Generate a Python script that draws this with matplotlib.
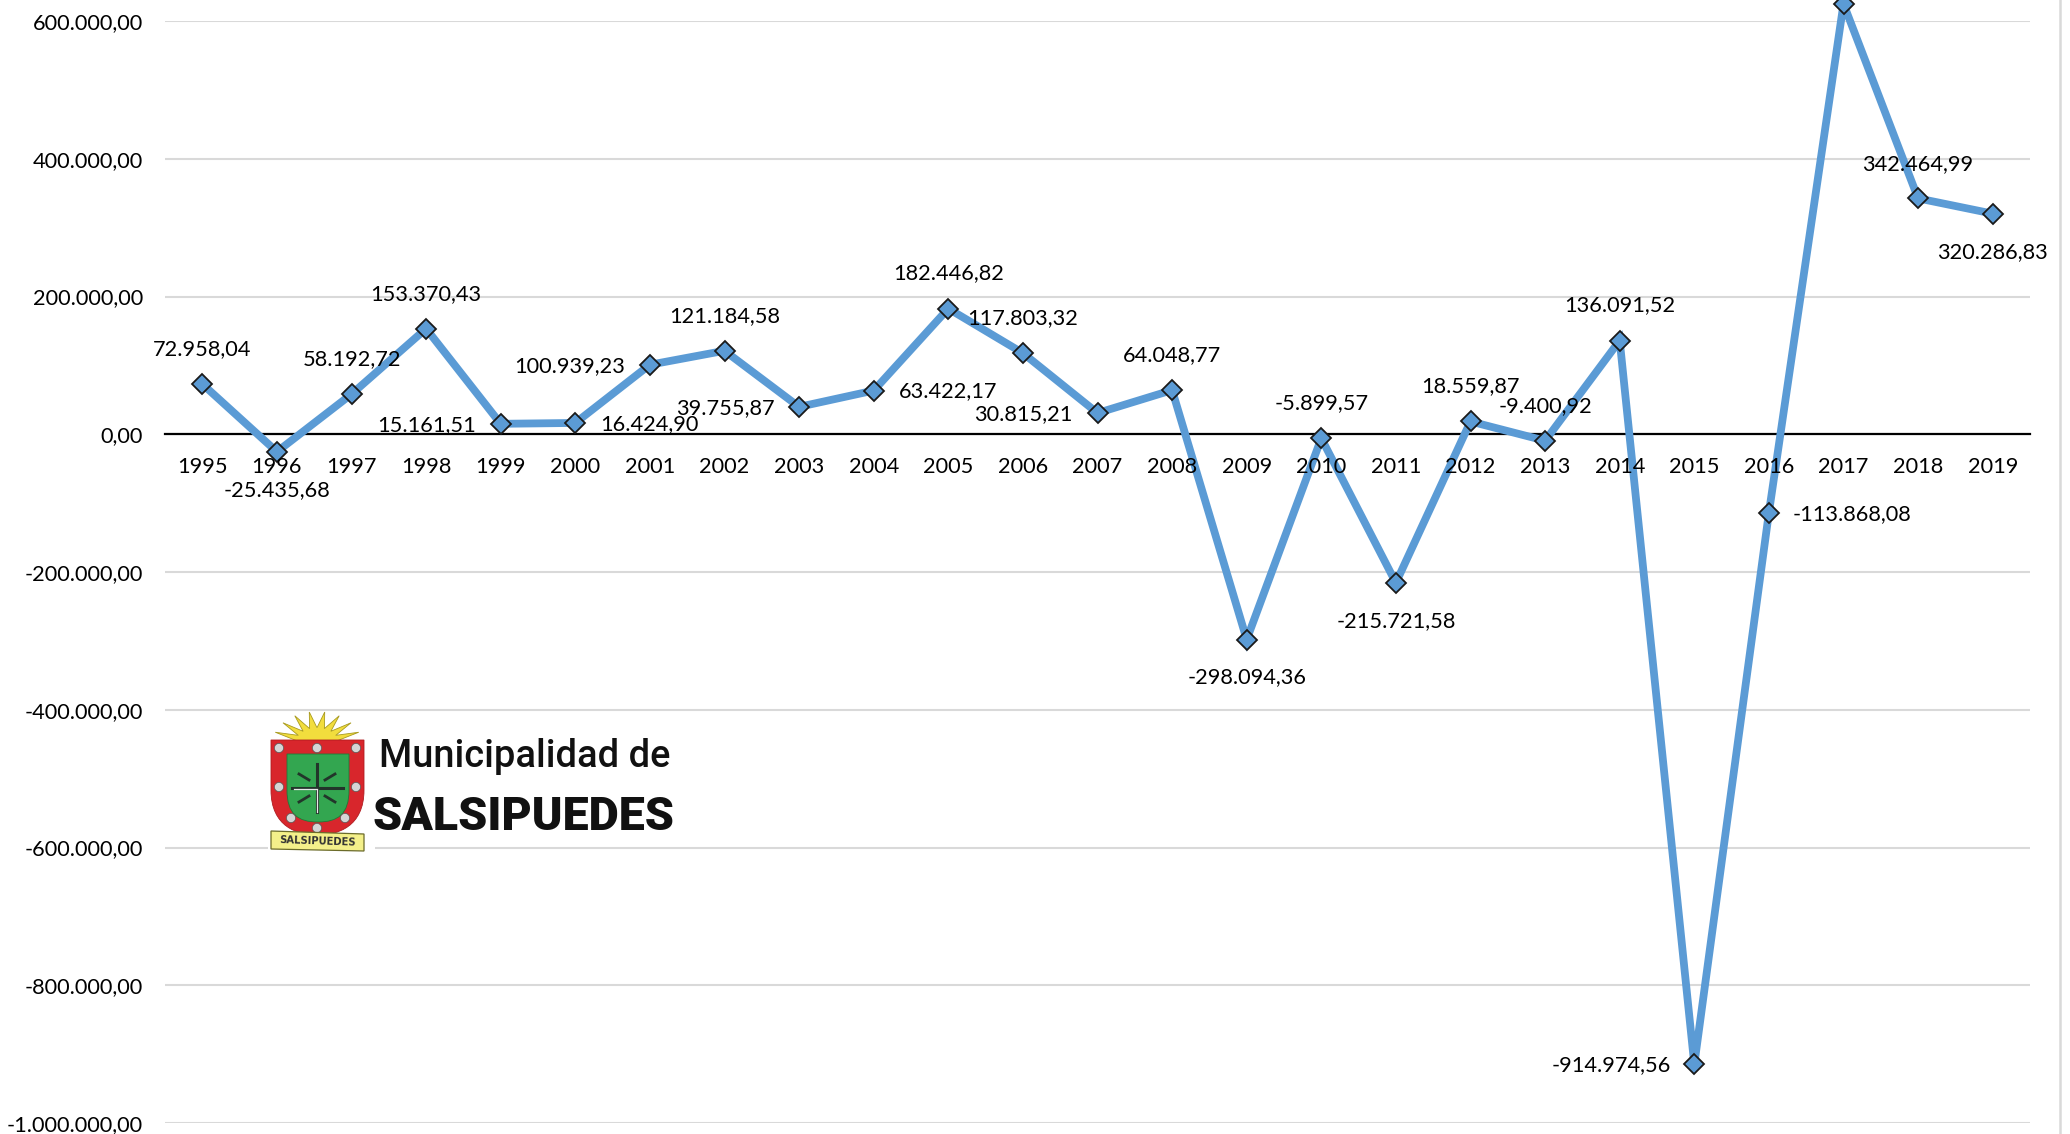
import matplotlib
matplotlib.use("Agg")
import matplotlib.pyplot as plt
from matplotlib.patches import Polygon, Circle, Rectangle, PathPatch
from matplotlib.path import Path
import numpy as np

years = list(range(1995, 2020))
values = [72958.04, -25435.68, 58192.72, 153370.43, 15161.51, 16424.90, 100939.23,
          121184.58, 39755.87, 63422.17, 182446.82, 117803.32, 30815.21, 64048.77,
          -298094.36, -5899.57, -215721.58, 18559.87, -9400.92, 136091.52,
          -914974.56, -113868.08, 625000.00, 342464.99, 320286.83]
show_label = [y != 2017 for y in years]
label_offsets = [(0, 35), (0, -38), (0, 35), (0, 35), (-74, -1), (74, -1), (-80, -1),
                 (0, 35), (-74, -1), (74, -1), (0, 35), (0, 35), (-74, -1), (0, 35),
                 (0, -38), (0, 35), (0, -38), (0, 35), (0, 35), (0, 35),
                 (-83, -1), (83, -1), (0, 0), (0, 34), (0, -38)]
ytick_values = list(range(-1000000, 600001, 200000))


def es(v):
    return f"{v:,.2f}".replace(",", "X").replace(".", ",").replace("X", ".")


plt.rcParams["font.family"] = ["Lato", "DejaVu Sans"]
W, H = 2070, 1134
fig = plt.figure(figsize=(W / 100, H / 100), dpi=100, facecolor="white")
ax = fig.add_axes([165 / W, 1 - 1123 / H, (2030 - 165) / W, (1123 - 21) / H])
ax.set_xlim(-0.5, 24.5)
ax.set_ylim(-1000000, 600000)
ax.set_facecolor("none")
for s in ["top", "left", "right"]:
    ax.spines[s].set_visible(False)
ax.spines["bottom"].set_position(("data", 0))
ax.spines["bottom"].set_color("black")
ax.spines["bottom"].set_linewidth(1.6)
ax.spines["bottom"].set_zorder(2)
ax.yaxis.grid(True, color="#D9D9D9", linewidth=1.5, zorder=0)
ax.set_axisbelow(True)
ax.xaxis.set_zorder(3.5)
ax.set_yticks(ytick_values)
ax.set_yticklabels([es(v) for v in ytick_values])
ax.set_xticks(range(len(years)))
ax.set_xticklabels([str(y) for y in years])
ax.tick_params(axis="both", length=0, labelsize=15.7, colors="black")
ax.tick_params(axis="x", pad=16.5)
ax.tick_params(axis="y", pad=16)

ax.plot(range(len(years)), values, color="#5B9BD5", linewidth=5.6, marker="D",
        markersize=9.8, markerfacecolor="#5B9BD5", markeredgecolor="#1a1a1a",
        markeredgewidth=1.3, clip_on=False, zorder=3, solid_joinstyle="miter")

for i, (v, (dx, dy)) in enumerate(zip(values, label_offsets)):
    if show_label[i]:
        ax.annotate(es(v), (i, v), xytext=(dx, dy), textcoords="offset pixels",
                    ha="center", va="center", fontsize=15.7, color="black", zorder=4)

# pixel overlay: right frame edge and the municipal logo
ov = fig.add_axes([0, 0, 1, 1], zorder=5)
ov.set_xlim(0, W)
ov.set_ylim(H, 0)
ov.axis("off")
ov.patch.set_alpha(0)
ov.plot([2060, 2060], [0, H], color="#D9D9D9", linewidth=1.8)

ov.add_patch(Rectangle((268, 713), 107, 141, facecolor="white", edgecolor="none", zorder=1))

# sun
cx, cy = 317, 743
angles = np.radians(np.linspace(180, 360, 19))
radii = [18 if k % 2 else 37 for k in range(19)]
sun = [(cx + r * 1.2 * np.cos(a), cy + r * 0.85 * np.sin(a)) for a, r in zip(angles, radii)]
ov.add_patch(Polygon(sun, closed=True, facecolor="#F2DD3D", edgecolor="#A89A20", linewidth=0.6, zorder=2))


def shield(l, r, t, mid, b):
    m = (l + r) / 2
    verts = [(l, t), (r, t), (r, mid), (r, b - 8), (m + 20, b), (m, b), (m - 20, b), (l, b - 8), (l, mid), (l, t)]
    codes = [Path.MOVETO, Path.LINETO, Path.LINETO, Path.CURVE4, Path.CURVE4, Path.CURVE4,
             Path.CURVE4, Path.CURVE4, Path.CURVE4, Path.CLOSEPOLY]
    return Path(verts, codes)


ov.add_patch(PathPatch(shield(271, 364, 740, 790, 835), facecolor="#D8262C", edgecolor="#B01C20", linewidth=0.6, zorder=3))
ov.add_patch(PathPatch(shield(287, 349, 754, 790, 822), facecolor="#33A650", edgecolor="#1F7A38", linewidth=0.6, zorder=4))
for px, py in [(279, 748), (317, 748), (356, 748), (279, 787), (356, 787), (291, 818), (345, 818), (317, 828)]:
    ov.add_patch(Circle((px, py), 4.6, facecolor="#D5D5D5", edgecolor="#555555", linewidth=0.5, zorder=5))
# cross
ov.plot([317, 317], [764, 812], color="#22352A", linewidth=2.2, zorder=5)
ov.plot([292, 343], [788, 788], color="#22352A", linewidth=2.2, zorder=5)
ov.plot([317, 317], [790, 812], color="#E8E8E8", linewidth=0.9, zorder=6)
ov.plot([294, 317], [789, 789], color="#E8E8E8", linewidth=0.9, zorder=6)
for sx, sy in [(1, 1), (1, -1), (-1, 1), (-1, -1)]:
    ov.plot([317 + sx * 8, 317 + sx * 18], [788 + sy * 8, 788 + sy * 14], color="#22352A", linewidth=2.0, zorder=5)
# ribbon
ov.add_patch(Polygon([(271, 831), (364, 834), (364, 851), (271, 849)], closed=True,
                     facecolor="#F4F08A", edgecolor="#6B6B2A", linewidth=0.9, zorder=6))
ov.text(318, 841, "SALSIPUEDES", ha="center", va="center", fontsize=7.2, fontweight="bold",
        color="#333333", rotation=-2, zorder=7, family="DejaVu Sans")

ov.text(379, 767, "Municipalidad de", ha="left", va="baseline", fontsize=27.4, color="#111111",
        family="Roboto", fontweight="medium", zorder=7)
ov.text(373, 830, "SALSIPUEDES", ha="left", va="baseline", fontsize=33.5, fontweight=900,
        color="#111111", family="Roboto", zorder=7)

fig.savefig("out.png", dpi=100, facecolor="white")
